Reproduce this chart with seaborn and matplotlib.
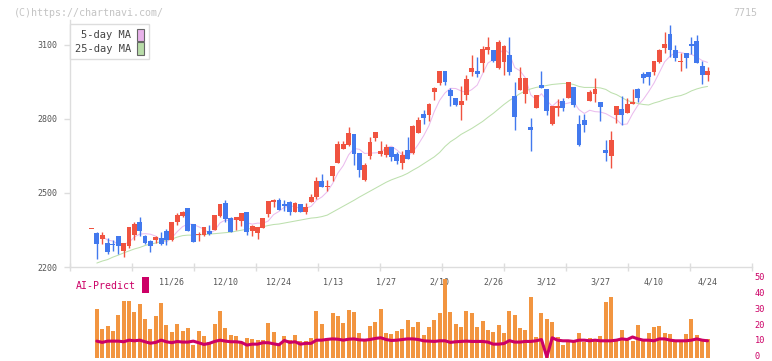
import numpy as np
import pandas as pd
import matplotlib
matplotlib.use("Agg")
import matplotlib.pyplot as plt
import matplotlib.transforms as mtransforms
from matplotlib.patches import Patch, Rectangle
import seaborn as sns

# daily candles, oldest first (last one is 4/24)
opens = [2352, 2338, 2313, 2297, 2293, 2325, 2266, 2286, 2329, 2382,
         2325, 2305, 2309, 2317, 2345, 2309, 2382, 2406, 2438, 2374,
         2331, 2329, 2345, 2349, 2406, 2458, 2398, 2390, 2386, 2422,
         2345, 2337, 2357, 2414, 2462, 2470, 2454, 2462, 2422, 2454,
         2422, 2462, 2483, 2547, 2523, 2567, 2620, 2676, 2692, 2737,
         2660, 2551, 2648, 2721, 2656, 2652, 2684, 2656, 2620, 2672,
         2660, 2741, 2818, 2814, 2907, 2943, 2995, 2915, 2886, 2854,
         2898, 2991, 2995, 3024, 3080, 3080, 3007, 3028, 3060, 2894,
         2915, 2902, 2765, 2842, 2935, 2919, 2777, 2842, 2874, 2886,
         2927, 2777, 2797, 2874, 2902, 2866, 2672, 2648, 2814, 2838,
         2822, 2858, 2919, 2983, 2991, 2991, 3028, 3088, 3145, 3080,
         3028, 3068, 3104, 3116, 3015, 2979]
highs = [2352, 2342, 2342, 2316, 2309, 2325, 2297, 2361, 2382, 2402,
         2329, 2309, 2325, 2341, 2353, 2382, 2417, 2427, 2438, 2374,
         2342, 2361, 2370, 2410, 2454, 2470, 2402, 2402, 2418, 2422,
         2370, 2361, 2398, 2466, 2474, 2478, 2470, 2466, 2462, 2454,
         2458, 2495, 2563, 2575, 2551, 2608, 2709, 2709, 2765, 2737,
         2660, 2620, 2725, 2745, 2709, 2697, 2684, 2664, 2668, 2725,
         2773, 2806, 2834, 2862, 2927, 2995, 2995, 2923, 2886, 2931,
         2979, 3060, 3052, 3096, 3132, 3080, 3120, 3100, 3132, 2947,
         3011, 2967, 2802, 2898, 2995, 2919, 2850, 2882, 2886, 2947,
         2927, 2814, 2818, 2915, 2967, 2870, 2713, 2749, 2850, 2894,
         2886, 2919, 2923, 2991, 2991, 3036, 3084, 3153, 3181, 3100,
         3068, 3068, 3132, 3140, 3036, 3011]
lows = [2352, 2232, 2293, 2251, 2265, 2253, 2242, 2275, 2309, 2326,
        2293, 2262, 2296, 2289, 2289, 2305, 2370, 2403, 2345, 2302,
        2305, 2326, 2329, 2349, 2402, 2382, 2341, 2349, 2366, 2329,
        2325, 2313, 2357, 2402, 2442, 2430, 2426, 2410, 2422, 2422,
        2414, 2462, 2474, 2523, 2507, 2547, 2620, 2676, 2688, 2612,
        2563, 2547, 2636, 2709, 2648, 2644, 2628, 2616, 2596, 2636,
        2656, 2741, 2777, 2793, 2878, 2935, 2935, 2850, 2850, 2797,
        2878, 2975, 2971, 2991, 3064, 3028, 3003, 2979, 2979, 2753,
        2915, 2862, 2668, 2842, 2923, 2814, 2773, 2810, 2830, 2886,
        2846, 2688, 2745, 2874, 2870, 2793, 2628, 2600, 2785, 2773,
        2822, 2858, 2866, 2943, 2935, 2979, 3024, 3068, 3052, 3032,
        2995, 3007, 3064, 3024, 2939, 2955]
closes = [2352, 2293, 2329, 2262, 2289, 2286, 2297, 2361, 2375, 2345,
          2297, 2286, 2321, 2293, 2309, 2382, 2410, 2423, 2345, 2302,
          2335, 2361, 2333, 2410, 2454, 2394, 2341, 2402, 2418, 2341,
          2366, 2361, 2398, 2466, 2470, 2430, 2446, 2422, 2458, 2422,
          2442, 2483, 2547, 2523, 2527, 2608, 2697, 2697, 2741, 2656,
          2592, 2612, 2705, 2745, 2668, 2684, 2644, 2628, 2652, 2636,
          2769, 2797, 2802, 2858, 2923, 2995, 2947, 2894, 2854, 2874,
          2963, 3007, 2983, 3084, 3092, 3032, 3112, 3096, 2991, 2806,
          2967, 2967, 2753, 2898, 2923, 2830, 2850, 2850, 2842, 2947,
          2854, 2692, 2773, 2907, 2919, 2846, 2660, 2713, 2850, 2814,
          2858, 2866, 2886, 2967, 2971, 3032, 3080, 3104, 3080, 3048,
          3032, 3048, 3096, 3024, 2979, 2995]

# 25-day moving average as drawn, from day 1
ma25 = [2216, 2224, 2230, 2240, 2248, 2257, 2265, 2273, 2279, 2287,
        2293, 2297, 2303, 2309, 2313, 2321, 2327, 2329, 2329, 2331,
        2331, 2333, 2335, 2337, 2339, 2341, 2345, 2349, 2353, 2357,
        2359, 2363, 2368, 2372, 2374, 2378, 2382, 2386, 2390, 2394,
        2398, 2400, 2404, 2410, 2422, 2434, 2446, 2458, 2470, 2483,
        2495, 2507, 2519, 2531, 2543, 2553, 2561, 2569, 2579, 2592,
        2604, 2618, 2632, 2646, 2664, 2688, 2707, 2721, 2737, 2749,
        2761, 2775, 2789, 2806, 2822, 2840, 2858, 2874, 2888, 2902,
        2913, 2921, 2927, 2931, 2935, 2939, 2941, 2943, 2943, 2939,
        2931, 2927, 2927, 2927, 2925, 2919, 2906, 2898, 2886, 2874,
        2868, 2862, 2858, 2856, 2864, 2870, 2878, 2884, 2890, 2894,
        2902, 2913, 2921, 2927, 2931]

# lower panel, from day 1
volume = [30.3, 17.8, 19.7, 16.6, 26.6, 35.3, 35.3, 28.4, 33.4, 24.1,
          17.8, 25.9, 34.1, 20.3, 15.9, 20.9, 16.6, 18.4, 7.8, 16.6,
          13.4, 9.7, 20.9, 29.1, 18.4, 14.1, 13.4, 9.7, 12.2, 11.6,
          10.9, 10.9, 21.6, 15.9, 8.4, 13.4, 10.9, 14.1, 10.3, 10.3,
          12.2, 29.1, 20.9, 12.2, 27.8, 25.9, 21.6, 29.7, 28.4, 15.3,
          11.6, 19.7, 22.2, 30.3, 15.3, 14.7, 16.6, 17.8, 23.4, 19.1,
          22.2, 14.1, 19.1, 23.4, 27.8, 49.1, 28.4, 20.9, 19.1, 29.1,
          27.8, 19.1, 22.8, 17.2, 15.9, 20.3, 15.3, 29.1, 26.6, 18.4,
          17.2, 37.8, 12.8, 27.8, 24.1, 22.2, 12.8, 7.8, 10.9, 10.9,
          15.3, 9.7, 12.2, 10.9, 13.4, 34.7, 37.8, 10.9, 17.2, 11.6,
          10.3, 20.3, 10.9, 15.3, 19.1, 19.7, 15.3, 14.7, 10.9, 10.9,
          14.7, 24.1, 14.1, 11.6, 11.6]
ai_predict = [10.3, 9.5, 10.3, 10.3, 10.3, 9.9, 10.9, 10.5, 10.9, 9.9,
              9.0, 9.5, 10.9, 9.9, 9.3, 10.1, 9.7, 9.7, 10.3, 9.3,
              8.2, 8.9, 10.1, 10.9, 10.3, 9.9, 9.9, 9.5, 7.8, 8.4,
              8.4, 9.3, 9.3, 8.6, 8.0, 10.7, 9.5, 9.9, 8.4, 8.9,
              8.9, 10.9, 10.9, 11.4, 11.7, 11.5, 10.9, 11.5, 11.7, 11.1,
              10.9, 11.3, 12.0, 12.4, 11.3, 10.7, 10.9, 11.3, 11.7, 11.7,
              11.3, 10.5, 10.3, 10.1, 10.5, 10.5, 9.5, 9.9, 10.1, 10.3,
              10.1, 10.1, 10.1, 9.7, 8.4, 8.4, 8.8, 10.6, 9.7, 9.7,
              10.1, 10.1, 10.5, 11.3, 0.3, 12.4, 10.9, 10.5, 10.5, 10.1,
              10.9, 10.9, 10.5, 10.9, 10.5, 10.5, 10.5, 10.9, 11.7, 11.3,
              12.9, 11.7, 10.9, 10.9, 10.5, 11.7, 11.7, 10.9, 10.5, 10.5,
              10.5, 10.9, 11.7, 10.9, 10.5]

date_labels = ["11/26", "12/10", "12/24", "1/13", "1/27", "2/10",
               "2/26", "3/12", "3/27", "4/10", "4/24"]
date_days = [15, 25, 35, 45, 55, 65, 75, 85, 95, 105, 115]
price_ticks = [2200, 2500, 2800, 3100]
ai_ticks = [0, 10, 20, 30, 40, 50]

UP = "#f05340"
DOWN = "#4279ee"
MAGENTA = "#cc0066"

df = pd.DataFrame({"open": opens, "high": highs, "low": lows, "close": closes})
df["day"] = np.arange(len(df))
df["ma5"] = df["close"].rolling(5, min_periods=1).mean()
df["up"] = df["close"] >= df["open"]

low_df = pd.DataFrame({"day": np.arange(1, len(df)), "volume": volume,
                       "ai": ai_predict, "ma25": ma25})

sns.set_style("white")
plt.rcParams["font.family"] = ["DejaVu Sans Mono"]

fig = plt.figure(figsize=(7.72, 3.61), dpi=100)
ax = fig.add_axes([70 / 772, 1 - 267 / 361, 682 / 772, 247 / 361])
ax2 = fig.add_axes([70 / 772, 1 - 357.5 / 361, 682 / 772, 79.5 / 361])
xlim = (-4.01, 123.3)

# moving averages
sns.lineplot(data=df.iloc[2:], x="day", y="ma5", color="#ebbcee", lw=0.75, ax=ax, zorder=2)
sns.lineplot(data=low_df, x="day", y="ma25", color="#bde0ae", lw=0.75, ax=ax, zorder=2)

# candles
colors = np.where(df["up"], UP, DOWN)
ax.vlines(df["day"], df["low"], df["high"], colors=colors, lw=1.0, zorder=3)
body = np.maximum((df["close"] - df["open"]).abs(), 4)
ax.bar(df["day"], body, bottom=np.minimum(df["open"], df["close"]),
       width=0.9, color=colors, linewidth=0, zorder=4)

ax.set_xlim(*xlim)
ax.set_ylim(2200, 3200)
ax.set_xlabel("")
ax.set_ylabel("")
ax.set_yticks(price_ticks)
ax.set_yticklabels([str(t) for t in price_ticks], fontsize=6, color="#555555")
ax.set_xticks(np.linspace(xlim[0], xlim[1], 12))
ax.set_xticklabels([])
ax.tick_params(axis="y", length=4, width=1, color="#dddddd", pad=5, left=True)
ax.tick_params(axis="x", direction="inout", length=6, width=1, color="#dddddd", bottom=True)
for side in ["top", "right"]:
    ax.spines[side].set_visible(False)
for side in ["left", "bottom"]:
    ax.spines[side].set_color("#dddddd")
    ax.spines[side].set_linewidth(1)

handles = [Patch(facecolor="#e8b2ea", edgecolor="#666666", lw=0.8),
           Patch(facecolor="#b8dca8", edgecolor="#666666", lw=0.8)]
leg = ax.legend(handles, ["5-day MA", "25-day MA"], loc="upper left",
                bbox_to_anchor=(0, 1 - 4 / 247), markerfirst=False,
                handlelength=0.65, handleheight=1.45, handletextpad=0.6,
                labelspacing=0.12, borderpad=0.45, borderaxespad=0,
                fancybox=False, fontsize=7.5, framealpha=1, edgecolor="#dddddd")
leg.get_frame().set_linewidth(1)
for t in leg.get_texts():
    t.set_color("#444444")

# volume and AI-Predict
ax2.bar(low_df["day"], low_df["volume"], width=0.75, color="#f29540", linewidth=0, zorder=2)
sns.lineplot(data=low_df, x="day", y="ai", color=MAGENTA, lw=2.2, ax=ax2, zorder=3)
ax2.set_xlim(*xlim)
ax2.set_ylim(0, 50)
ax2.set_xlabel("")
ax2.set_ylabel("")
for s in ax2.spines.values():
    s.set_visible(False)
ax2.yaxis.tick_right()
ax2.set_yticks(ai_ticks)
ax2.set_yticklabels([str(t) for t in ai_ticks], fontsize=6.2, color=MAGENTA)
ax2.tick_params(axis="y", length=0, pad=2)
lift = mtransforms.ScaledTranslation(0, 1.2 / 72, fig.dpi_scale_trans)
for lab in ax2.get_yticklabels():
    lab.set_transform(lab.get_transform() + lift)
ax2.xaxis.tick_top()
ax2.set_xticks(date_days)
ax2.set_xticklabels(date_labels, fontsize=6, color="#555555")
ax2.tick_params(axis="x", length=0, pad=-6)
ax2.patch.set_alpha(0)

fig.text(76 / 772, 1 - 286 / 361, "AI-Predict", color=MAGENTA, fontsize=7.1, va="center")
fig.add_artist(Rectangle((142 / 772, 1 - 293 / 361), 7 / 772, 16 / 361,
                         transform=fig.transFigure, color=MAGENTA, lw=0))

fig.text(14 / 772, 1 - 12.5 / 361, "(C)https://chartnavi.com/", color="#c4c4c4",
         fontsize=7.2, va="center")
fig.text(757 / 772, 1 - 12.5 / 361, "7715", color="#c4c4c4", fontsize=7.2,
         va="center", ha="right")

fig.savefig("out.png", dpi=100)
